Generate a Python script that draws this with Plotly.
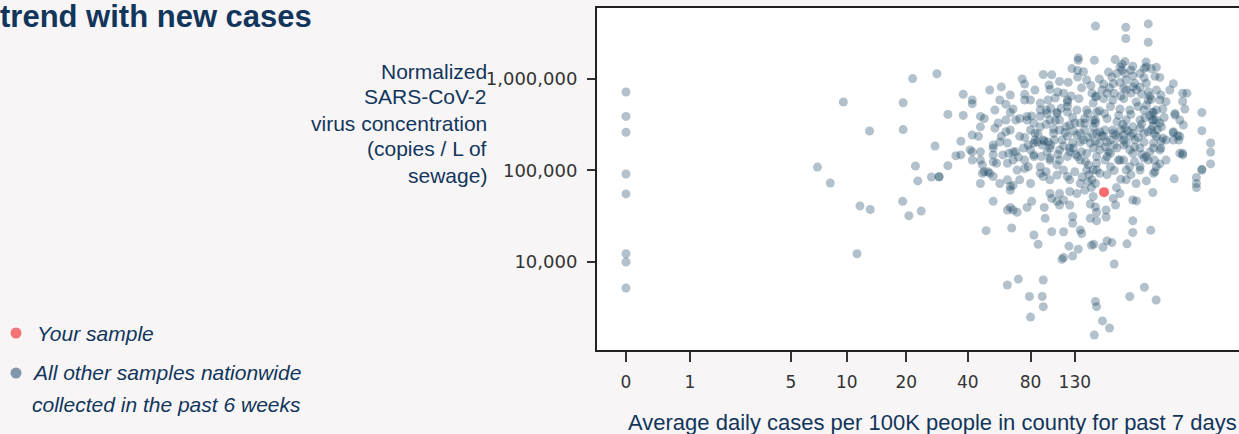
import numpy as np
import plotly.graph_objects as go

# ---------------- data (cases per 100K, copies / L) ----------------
TICK_CASES = [0, 1, 5, 10, 20, 40, 80, 130]
TICK_COPIES = [10000, 100000, 1000000]

your_sample = [(179, 58000)]

zero_day = [(0, 720000), (0, 390000), (0, 262000), (0, 91500), (0, 55500),
            (0, 12300), (0, 10000), (0, 5200)]

low_cases = [(9.6, 560000), (19.3, 550000), (21.5, 1010000), (28.3, 1140000),
             (13.1, 270000), (19.3, 280000), (27.7, 185000), (7.0, 109000),
             (8.2, 73000), (22.2, 112000), (22.8, 77000), (26.6, 85000),
             (29, 85000), (11.7, 41000), (13.2, 37500), (19.2, 46000),
             (20.6, 32000), (23.7, 36000), (11.3, 12300)]

mid_left = [(38, 680000), (42, 590000), (42, 535000), (32, 410000), (38, 400000),
            (48, 370000), (46, 390000), (58, 820000), (46, 300000), (54, 290000),
            (56, 330000), (42, 244000), (45, 236000), (37, 209000), (35, 145000),
            (32, 113000), (29, 86000), (42, 160000), (42, 130000), (46, 160000),
            (46, 130000), (53, 176000), (53, 148000), (53, 124000), (58, 236000),
            (61, 265000), (63, 154000), (66, 160000), (62, 120000), (50, 97000),
            (47, 93000), (66, 470000), (64, 430000), (73, 1000000), (75, 880000),
            (75, 680000), (75, 590000), (61, 530000), (37, 148000), (41, 168000),
            (47, 115000), (57, 205000), (59, 148000), (68, 160000), (55, 120000),
            (48, 97000), (51, 93000), (53, 86000), (46, 72000), (57, 72000),
            (62, 79000), (64, 67000), (64, 61000), (66, 69000), (71, 79000),
            (75, 105000), (78, 110000), (80, 72000), (53, 46000), (62, 37000),
            (64, 39500), (66, 37000), (69, 35000), (77, 39500), (81, 46000),
            (49, 22000), (65, 23500)]

lower_mid = [(83, 19700), (87, 15600), (101, 21400), (115, 21400), (93, 39500),
             (94, 30000), (110, 42000), (127, 31400), (127, 26500), (138, 22400),
             (154, 30000), (165, 35000), (99, 56000), (101, 49500), (107, 46000),
             (122, 14900), (135, 13800), (113, 10700), (115, 11200), (127, 11600),
             (140, 20500), (156, 15200), (160, 15600), (177, 14500), (185, 17000),
             (195, 16300), (200, 9500), (230, 15800), (245, 21000), (298, 22200),
             (245, 28200), (165, 28200), (183, 31000), (203, 42000), (245, 47600),
             (255, 46500), (305, 57500), (385, 81000), (490, 84000), (490, 72000),
             (490, 65000), (520, 101000)]

bottom = [(62, 5600), (70, 6500), (79, 4200), (91, 4200), (92, 3250), (80, 2500),
          (92, 6360), (163, 3700), (165, 3250), (176, 2270), (190, 1900),
          (161, 1590), (237, 4200), (278, 5300), (316, 3840)]

core_mid = [(86, 205000), (92, 215000), (99, 176000), (110, 168000), (123, 176000),
            (138, 205000), (148, 154000), (159, 176000), (83, 148000), (90, 142000),
            (99, 137000), (89, 93000), (95, 97000), (92, 86000), (99, 79000),
            (107, 89000), (107, 115000), (115, 101000), (120, 86000), (123, 79000),
            (130, 97000), (138, 72000), (145, 61000), (157, 79000), (165, 101000),
            (123, 59000), (133, 56000), (110, 56000), (115, 47600), (123, 42000)]

right_side = [(422, 700000), (442, 700000), (422, 570000), (432, 470000), (520, 430000),
              (388, 404000), (409, 356000), (425, 314000), (520, 272000), (572, 200000),
              (381, 258000), (409, 236000), (405, 215000), (572, 159000), (572, 118000),
              (520, 103000), (422, 148000), (352, 130000), (329, 118000), (307, 93000),
              (312, 97000), (284, 77000), (352, 565000), (333, 668000), (317, 759000),
              (290, 725000), (312, 1070000), (340, 470000), (307, 435000),
              (317, 1340000), (329, 1040000), (381, 890000), (367, 759000),
              (388, 420000), (381, 265000), (400, 240000), (422, 154000),
              (340, 225000), (333, 176000)]

top_band = [(163, 3800000), (227, 3680000), (227, 2770000), (290, 4000000),
            (290, 2520000), (161, 1600000), (135, 1700000), (135, 1600000),
            (202, 1630000), (218, 1450000), (218, 1250000), (245, 1380000),
            (283, 1530000), (283, 1350000), (300, 1300000), (188, 1190000),
            (126, 1300000), (134, 1240000), (134, 1050000), (143, 1200000),
            (92, 1120000), (101, 1110000), (148, 975000), (245, 1080000),
            (245, 820000), (277, 1300000), (277, 1030000), (284, 900000),
            (225, 1150000), (222, 790000), (178, 880000), (213, 920000),
            (206, 1150000), (98, 860000), (99, 770000), (110, 940000),
            (121, 920000), (108, 720000)]

upper_core = [(89, 545000), (97, 590000), (120, 560000), (120, 500000), (136, 610000),
              (157, 700000), (163, 640000), (71, 370000), (77, 356000), (81, 395000),
              (89, 458000), (96, 420000), (107, 430000), (99, 356000), (120, 435000),
              (133, 458000), (145, 370000), (138, 330000), (159, 545000), (165, 435000),
              (159, 356000), (53, 190000), (62, 200000), (71, 236000), (75, 230000),
              (84, 215000), (93, 210000), (84, 255000), (89, 300000), (103, 285000),
              (110, 277000), (120, 236000), (133, 244000), (143, 215000), (163, 330000),
              (165, 255000), (154, 200000)]

core_rows = [(178, 610000), (197, 590000), (222, 610000), (254, 560000), (290, 590000),
             (192, 500000), (213, 470000), (237, 458000), (277, 458000), (163, 356000),
             (185, 370000), (206, 340000), (228, 356000), (265, 356000), (303, 356000),
             (329, 330000), (171, 265000), (197, 277000), (222, 244000), (245, 255000),
             (290, 265000), (317, 236000), (352, 215000), (163, 209000), (185, 205000),
             (222, 190000), (277, 205000), (307, 176000), (333, 209000)]

core_low = [(228, 79000), (254, 72000), (265, 101000), (277, 137000), (245, 154000),
            (222, 130000), (192, 110000), (171, 93000), (192, 154000), (165, 142000),
            (206, 176000), (228, 200000), (265, 176000), (307, 200000), (329, 168000),
            (290, 130000), (237, 110000), (163, 72000), (159, 52000), (198, 49500),
            (213, 56000), (183, 37000), (163, 40000), (154, 43000)]

core_dense = [(181, 277000), (203, 244000), (225, 290000), (251, 215000), (192, 215000),
              (265, 290000), (91, 190000), (97, 205000), (303, 430000), (317, 356000),
              (305, 305000), (134, 142000), (138, 130000), (159, 101000), (151, 115000),
              (213, 1350000), (225, 1550000), (113, 215000), (123, 160000), (145, 277000),
              (171, 168000), (209, 130000), (237, 168000), (110, 356000), (123, 314000),
              (181, 130000), (110, 130000), (80, 168000), (75, 130000), (80, 277000),
              (64, 277000), (68, 356000), (61, 356000), (54, 458000), (57, 589000),
              (84, 759000), (80, 589000), (64, 668000), (51, 759000)]

core_more = [(89, 390000), (95, 458000), (107, 420000), (120, 589000), (148, 458000),
             (165, 650000), (185, 700000), (228, 759000), (198, 890000), (228, 975000),
             (265, 820000), (83, 330000), (77, 390000), (74, 176000), (83, 200000),
             (103, 255000), (128, 176000), (138, 255000), (159, 300000), (178, 236000),
             (198, 255000), (222, 215000), (245, 300000), (277, 255000), (307, 356000),
             (317, 458000), (329, 589000), (295, 650000), (381, 215000), (409, 154000),
             (66, 130000), (69, 101000), (83, 142000), (89, 110000), (99, 130000),
             (120, 142000), (148, 101000), (165, 120000), (185, 142000), (213, 130000),
             (228, 101000), (265, 110000), (284, 142000), (317, 110000)]

core_extra = [(104, 215000), (100, 190000), (108, 150000), (96, 160000), (115, 185000),
              (127, 200000), (131, 150000), (140, 160000), (146, 125000), (152, 90000),
              (156, 65000), (150, 75000), (141, 85000), (170, 200000), (175, 240000),
              (182, 180000), (188, 160000), (200, 190000), (210, 230000), (215, 280000),
              (220, 320000), (232, 270000), (240, 240000), (250, 180000), (260, 230000),
              (270, 320000), (280, 380000), (295, 400000), (300, 280000), (310, 250000),
              (320, 280000), (335, 300000), (345, 380000), (200, 700000), (215, 650000),
              (240, 700000), (255, 760000), (270, 680000), (190, 800000), (175, 760000),
              (250, 900000), (265, 1150000), (240, 1250000), (195, 1050000),
              (170, 1000000), (155, 850000), (140, 800000), (125, 650000), (115, 700000),
              (105, 620000), (100, 480000), (112, 480000), (127, 380000), (150, 420000),
              (170, 450000), (180, 420000), (210, 400000), (240, 410000), (260, 500000),
              (285, 520000), (300, 600000), (70, 140000), (78, 190000), (87, 250000),
              (95, 320000), (105, 350000), (118, 300000), (130, 330000), (145, 330000),
              (158, 250000), (150, 230000), (128, 270000), (117, 260000), (185, 90000),
              (200, 100000), (215, 80000), (240, 90000), (205, 65000), (250, 125000),
              (270, 150000), (295, 160000), (310, 130000)]

other_groups = [zero_day, low_cases, mid_left, lower_mid, bottom, core_mid,
                right_side, top_band, upper_core, core_rows, core_low,
                core_dense, core_more, core_extra]
others = [p for g in other_groups for p in g]
other_cases = np.array([p[0] for p in others], dtype=float)
other_copies = np.array([p[1] for p in others], dtype=float)
you_cases = np.array([p[0] for p in your_sample], dtype=float)
you_copies = np.array([p[1] for p in your_sample], dtype=float)


def case_scale(c):
    """log(1 + cases) scale used on the x axis"""
    return np.log10(np.asarray(c, dtype=float) + 1.0)


# ---------------- figure ----------------
W, H = 1239, 434
ML, MR, MT, MB = 597, 0, 8, 84
PW, PH = W - ML - MR, H - MT - MB

NAVY = "#12355b"
BG = "#f7f5f6"
TEXT_FONT = "Liberation Sans, Arial, sans-serif"
TICK_FONT = "DejaVu Sans, sans-serif"


def px(x):
    return (x - ML) / PW


def py(y):
    return (H - MB - y) / PH


fig = go.Figure()
fig.add_trace(go.Scatter(
    x=case_scale(other_cases), y=other_copies, mode="markers",
    marker=dict(size=9, color="rgba(14,61,94,0.32)", line=dict(width=0)),
    name="All other samples nationwide collected in the past 6 weeks",
    hoverinfo="skip"))
fig.add_trace(go.Scatter(
    x=case_scale(you_cases), y=you_copies, mode="markers",
    marker=dict(size=10, color="#f76c6c", line=dict(width=0)),
    name="Your sample", hoverinfo="skip"))

fig.update_layout(
    width=W, height=H,
    margin=dict(l=ML, r=MR, t=MT, b=MB, pad=0),
    paper_bgcolor=BG, plot_bgcolor="#ffffff",
    showlegend=False,
    xaxis=dict(range=[-0.1368, 2.892], tickvals=list(case_scale(TICK_CASES)),
               ticktext=[str(t) for t in TICK_CASES],
               ticks="outside", ticklen=10, tickwidth=1.5, tickcolor="#333",
               showline=True, linecolor="#222", linewidth=2, mirror=True,
               showgrid=False, zeroline=False, ticklabelstandoff=6,
               tickfont=dict(family=TICK_FONT, size=17, color="#333")),
    yaxis=dict(type="log", range=[3.038, 6.776], tickvals=TICK_COPIES,
               tickformat=",d",
               ticks="outside", ticklen=8, tickwidth=1.5, tickcolor="#333",
               showline=True, linecolor="#222", linewidth=2, mirror=False,
               showgrid=False, zeroline=False, ticklabelstandoff=6,
               tickfont=dict(family=TICK_FONT, size=18, color="#333")),
)

ann = []
ann.append(dict(text="<b>trend with new cases</b>", x=px(-2), y=py(17),
                xanchor="left", yanchor="middle",
                font=dict(family=TEXT_FONT, size=31, color=NAVY)))
y_title_lines = ["Normalized", "SARS-CoV-2", "virus concentration",
                 "(copies / L of", "sewage)"]
for i, line in enumerate(y_title_lines):
    ann.append(dict(text=line, x=px(489), y=py(71 + 26 * i),
                    xanchor="right", yanchor="middle", align="right",
                    font=dict(family=TEXT_FONT, size=21, color=NAVY)))
ann.append(dict(text="Average daily cases per 100K people in county for past 7 days",
                x=px(932), y=py(422), xanchor="center", yanchor="middle",
                font=dict(family=TEXT_FONT, size=22, color=NAVY)))
ann.append(dict(text="<i>Your sample</i>", x=px(35), y=py(333),
                xanchor="left", yanchor="middle",
                font=dict(family=TEXT_FONT, size=21, color=NAVY)))
ann.append(dict(text="<i>All other samples nationwide</i>", x=px(30), y=py(373),
                xanchor="left", yanchor="middle",
                font=dict(family=TEXT_FONT, size=21, color=NAVY)))
ann.append(dict(text="<i>collected in the past 6 weeks</i>", x=px(30), y=py(405),
                xanchor="left", yanchor="middle",
                font=dict(family=TEXT_FONT, size=21, color=NAVY)))
for a in ann:
    a.update(xref="paper", yref="paper", showarrow=False)
fig.update_layout(annotations=ann)

# legend dots
for cx, cy, col in [(16, 333, "#f47575"), (16, 373, "#8197aa")]:
    r = 5.5
    fig.add_shape(type="circle", xref="paper", yref="paper",
                  x0=px(cx - r), x1=px(cx + r), y0=py(cy + r), y1=py(cy - r),
                  fillcolor=col, line=dict(width=0))

fig.write_html(
    "out.html",
    config={"displayModeBar": False},
    post_script=("document.body.style.margin='0';"
                 "document.body.style.padding='0';"
                 "document.body.style.overflow='hidden';"
                 "document.body.style.backgroundColor='" + BG + "';"),
)
